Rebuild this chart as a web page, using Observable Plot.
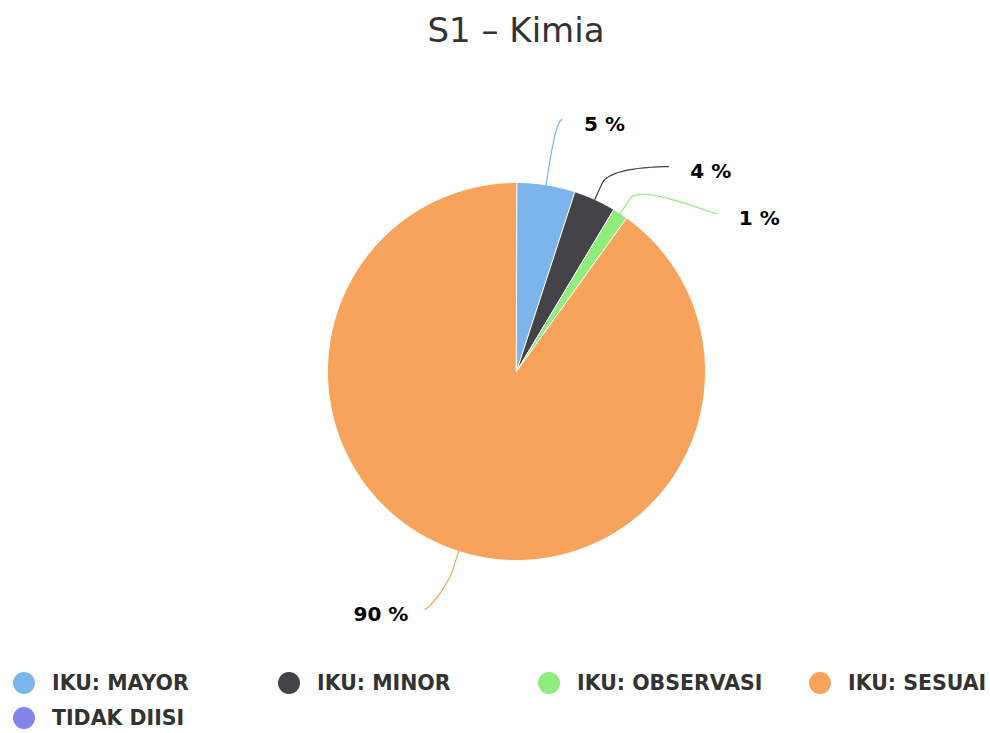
<!DOCTYPE html>
<html><head><meta charset="utf-8">
<script src="https://cdn.jsdelivr.net/npm/d3@7"></script>
<script src="https://cdn.jsdelivr.net/npm/@observablehq/plot@0.6"></script>
<style>
body{margin:0;background:#fff;width:990px;height:733px;overflow:hidden;font-family:"DejaVu Sans",sans-serif;}
#title{height:62px;line-height:60px;text-align:center;font-size:34px;color:#333;padding-left:42px;}
#legend{padding-top:3px;padding-left:13px;}
.row{white-space:nowrap;height:35px;}
.item{display:inline-flex;align-items:center;height:35px;font-weight:bold;font-size:20.5px;color:#333;vertical-align:top;}
.dot{width:22px;height:22px;border-radius:50%;margin-right:17px;flex:none;}
</style></head><body>
<div id="title">S1 – Kimia</div>
<div id="chart"></div>
<div id="legend"></div>
<script>
const categories = ["IKU: MAYOR", "IKU: MINOR", "IKU: OBSERVASI", "IKU: SESUAI", "TIDAK DIISI"];
const shares = [5.0, 3.6, 1.3, 90.1, 0];
const colors = ["#7cb5ec", "#434348", "#90ed7d", "#f7a35c", "#8085e9"];
const legendWidths = [265, 260, 271, null, null];

const data = categories.map((cat, i) => ({cat, share: shares[i]}));

// layout (pixels relative to pie centre)
const W = 990, H = 600, CX = 516, CY = 309;
const R = 189, labelR = 255, breakOff = 18, spacing = 47;

const arcs = d3.pie().sort(null).value(d => d.share)(data);

// slice polygons
const slicePts = [];
for (const a of arcs) {
  if (a.data.share <= 0) continue;
  slicePts.push({cat: a.data.cat, x: 0, y: 0});
  const n = Math.max(2, Math.ceil((a.endAngle - a.startAngle) / 0.01));
  for (let k = 0; k <= n; k++) {
    const t = a.startAngle + (a.endAngle - a.startAngle) * k / n;
    slicePts.push({cat: a.data.cat, x: R * Math.sin(t), y: -R * Math.cos(t)});
  }
}

// labels
const lab = arcs.filter(a => a.data.share > 0).map(a => {
  const mid = (a.startAngle + a.endAngle) / 2;
  const s = Math.sin(mid), c = Math.cos(mid);
  return {cat: a.data.cat, text: Math.round(a.data.share) + " %", s, c, right: s >= 0,
          ny: -labelR * c, tx: R * s, ty: -R * c};
});
for (const side of [true, false]) {
  const g = lab.filter(d => d.right === side).sort((a, b) => a.ny - b.ny);
  let prev = -Infinity;
  for (const d of g) { d.ly = Math.max(d.ny, prev + spacing); prev = d.ly; }
}
const connPts = [];
for (const d of lab) {
  const sg = d.right ? 1 : -1;
  if (!d.right) d.ly -= 5;
  d.lx = sg * Math.sqrt(Math.max(0, labelR * labelR - d.ly * d.ly));
  if (d.right) d.lx = Math.max(d.lx, d.tx + 16);
  const bx = d.tx + d.s * breakOff, by = d.ty - d.c * breakOff;
  const P0 = [d.lx, d.ly], P1 = [d.lx - sg * 5, d.ly], P2 = [2 * bx - d.tx, 2 * by - d.ty], P3 = [bx, by];
  const N = 24;
  for (let k = 0; k <= N; k++) {
    const t = k / N, u = 1 - t;
    const x = u*u*u*P0[0] + 3*u*u*t*P1[0] + 3*u*t*t*P2[0] + t*t*t*P3[0];
    const y = u*u*u*P0[1] + 3*u*u*t*P1[1] + 3*u*t*t*P2[1] + t*t*t*P3[1];
    connPts.push({cat: d.cat, x, y});
  }
  connPts.push({cat: d.cat, x: d.tx, y: d.ty});
  d.textX = d.lx + sg * (d.right ? 22 : 16);
  d.textY = d.ly + 5;
}

const textStyle = {fontSize: 20, fontWeight: "bold", fill: "#000", fontFamily: "DejaVu Sans"};

const chart = Plot.plot({
  width: W, height: H,
  margin: 0,
  x: {axis: null, domain: [-CX, W - CX], range: [0, W]},
  y: {axis: null, domain: [-CY, H - CY], range: [0, H]},
  color: {domain: categories, range: colors},
  style: {background: "white", overflow: "visible"},
  marks: [
    Plot.line(slicePts, {x: "x", y: "y", z: "cat", fill: "cat", stroke: "white", strokeWidth: 1, curve: "linear-closed", strokeLinejoin: "round"}),
    Plot.line(connPts, {x: "x", y: "y", z: "cat", stroke: "cat", strokeWidth: 1.2}),
    Plot.text(lab.filter(d => d.right), {x: "textX", y: "textY", text: "text", textAnchor: "start", ...textStyle}),
    Plot.text(lab.filter(d => !d.right), {x: "textX", y: "textY", text: "text", textAnchor: "end", ...textStyle})
  ]
});
document.getElementById("chart").appendChild(chart);

// legend
const legend = document.getElementById("legend");
const rows = [categories.slice(0, 4), categories.slice(4)];
for (const r of rows) {
  const row = document.createElement("div");
  row.className = "row";
  for (const cat of r) {
    const i = categories.indexOf(cat);
    const it = document.createElement("div");
    it.className = "item";
    if (legendWidths[i]) it.style.width = legendWidths[i] + "px";
    const dot = document.createElement("span");
    dot.className = "dot";
    dot.style.background = colors[i];
    it.appendChild(dot);
    it.appendChild(document.createTextNode(cat));
    row.appendChild(it);
  }
  legend.appendChild(row);
}
</script>
</body></html>
